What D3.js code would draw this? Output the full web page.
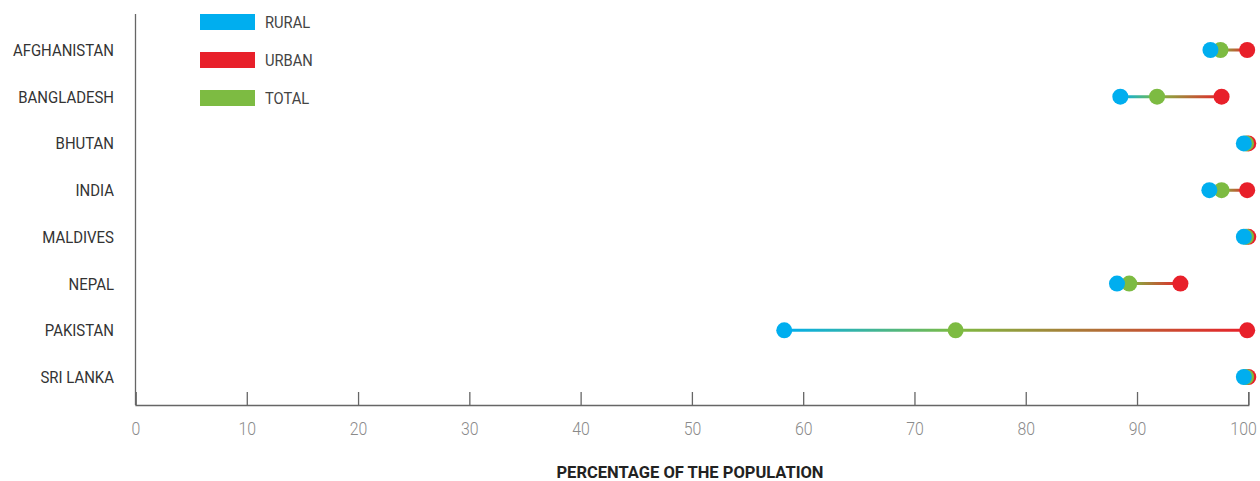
<!DOCTYPE html>
<html>
<head>
<meta charset="utf-8">
<script src="https://cdn.jsdelivr.net/npm/d3@7"></script>
<style>
  body { margin: 0; background: #fff; }
  text { font-family: "Roboto", sans-serif; }
</style>
</head>
<body>
<div id="chart"></div>
<script>
const countries = ["AFGHANISTAN", "BANGLADESH", "BHUTAN", "INDIA", "MALDIVES", "NEPAL", "PAKISTAN", "SRI LANKA"];
const rural = [96.6, 88.5, 99.6, 96.5, 99.6, 88.2, 58.3, 99.6];
const urban = [99.9, 97.6, 100, 99.9, 100, 93.9, 99.9, 100];
const total = [97.5, 91.8, 99.8, 97.6, 99.8, 89.3, 73.7, 99.8];
const xTicks = [0, 10, 20, 30, 40, 50, 60, 70, 80, 90, 100];
const legendItems = ["RURAL", "URBAN", "TOTAL"];

const colors = {RURAL: "#00aeef", URBAN: "#e8202a", TOTAL: "#7dbb42"};

// narrow the text a bit, the original uses a condensed face
const squeeze = "scale(0.88,1)";

const W = 1260, H = 481;
const margin = {top: 14, right: 12, bottom: 76, left: 135.5};

const svg = d3.select("#chart").append("svg")
    .attr("width", W)
    .attr("height", H);

const x = d3.scaleLinear().domain([0, 100]).range([margin.left, 1248.3]);
const y = d3.scalePoint().domain(countries).range([50, 377]);
const axisY = 405;

// x axis
const xAxis = svg.append("g")
    .attr("transform", `translate(0,${axisY})`)
    .call(d3.axisBottom(x).tickValues(xTicks).tickSize(-13).tickPadding(17).tickFormat(d3.format("d")));
xAxis.select(".domain").attr("stroke", "#666").attr("stroke-width", 1.3);
xAxis.selectAll(".tick line").attr("stroke", "#666").attr("stroke-width", 1.3);
xAxis.selectAll(".tick text")
    .attr("fill", "#8a8a8a")
    .attr("font-size", "18px")
    .attr("font-weight", 300)
    .attr("font-family", "Roboto, sans-serif")
    .attr("transform", squeeze)
    .attr("dx", d => d === 100 ? -6 : 0);   // last label pulled in to stay on the page

// y axis line
svg.append("line")
    .attr("x1", margin.left).attr("x2", margin.left)
    .attr("y1", margin.top).attr("y2", axisY)
    .attr("stroke", "#666").attr("stroke-width", 1.3);

// country labels
svg.selectAll(".country")
    .data(countries)
    .join("text")
    .attr("class", "country")
    .attr("transform", d => `translate(114,${y(d)}) ${squeeze}`)
    .attr("dy", "0.35em")
    .attr("text-anchor", "end")
    .attr("fill", "#333")
    .attr("font-size", "17px")
    .text(d => d);

// axis title
svg.append("text")
    .attr("x", 690)
    .attr("y", 478)
    .attr("text-anchor", "middle")
    .attr("fill", "#222")
    .attr("font-size", "16.5px")
    .attr("font-weight", 700)
    .text("PERCENTAGE OF THE POPULATION");

// gradients per row
const defs = svg.append("defs");
countries.forEach((c, i) => {
    const x0 = x(rural[i]), x1 = x(urban[i]);
    const mid = x1 > x0 ? (x(total[i]) - x0) / (x1 - x0) : 0.5;
    const g = defs.append("linearGradient")
        .attr("id", "grad" + i)
        .attr("gradientUnits", "userSpaceOnUse")
        .attr("x1", x0).attr("x2", x1)
        .attr("y1", 0).attr("y2", 0);
    g.append("stop").attr("offset", 0).attr("stop-color", colors.RURAL);
    g.append("stop").attr("offset", mid).attr("stop-color", colors.TOTAL);
    g.append("stop").attr("offset", 1).attr("stop-color", colors.URBAN);
});

const rows = svg.selectAll(".row")
    .data(countries)
    .join("g")
    .attr("class", "row");

rows.append("line")
    .attr("x1", (d, i) => x(rural[i]))
    .attr("x2", (d, i) => x(urban[i]))
    .attr("y1", d => y(d))
    .attr("y2", d => y(d))
    .attr("stroke", (d, i) => `url(#grad${i})`)
    .attr("stroke-width", 3);

rows.append("circle")
    .attr("cx", (d, i) => x(urban[i]))
    .attr("cy", d => y(d))
    .attr("r", 8)
    .attr("fill", colors.URBAN);

rows.append("circle")
    .attr("cx", (d, i) => x(total[i]))
    .attr("cy", d => y(d))
    .attr("r", 8)
    .attr("fill", colors.TOTAL);

rows.append("circle")
    .attr("cx", (d, i) => x(rural[i]))
    .attr("cy", d => y(d))
    .attr("r", 8)
    .attr("fill", colors.RURAL);

// legend
const legend = svg.append("g").attr("transform", "translate(200,14)");
legendItems.forEach((k, i) => {
    legend.append("rect")
        .attr("x", 0)
        .attr("y", i * 38)
        .attr("width", 55)
        .attr("height", 16)
        .attr("fill", colors[k]);
    legend.append("text")
        .attr("transform", `translate(65,${i * 38 + 8}) scale(0.92,1)`)
        .attr("dy", "0.35em")
        .attr("fill", "#444")
        .attr("font-size", "16px")
        .text(k);
});
</script>
</body>
</html>
